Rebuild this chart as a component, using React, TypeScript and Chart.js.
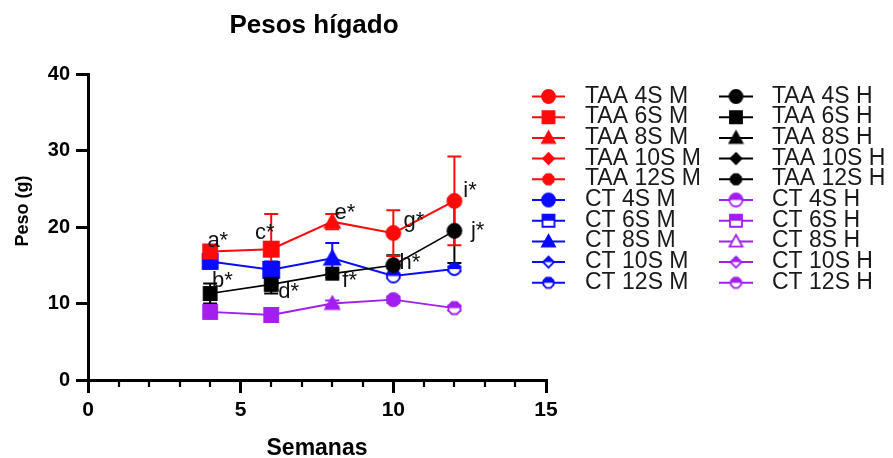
import React, { useEffect, useRef } from 'react';
import { Chart, registerables } from 'chart.js';

Chart.register(...registerables);

// ---------- data ----------
const weeks = [4, 6, 8, 10, 12];

const taaM = [16.8, 17.1, 20.7, 19.2, 23.4];
const taaMErr = [0.3, 4.6, 1.0, 3.0, 5.8];
const taaH = [11.3, 12.5, 13.9, 15.0, 19.5];
const taaHErr = [1.3, 1.2, 0.5, 1.3, 4.2];
const ctM = [15.5, 14.4, 15.9, 13.6, 14.5];
const ctMErr = [0.4, 1.1, 2.0, 0.3, 0.3];
const ctH = [8.9, 8.5, 10.0, 10.5, 9.4];
const ctHErr = [0.5, 0.4, 0.4, 0.4, 0.3];

const xTicks = [0, 5, 10, 15];
const yTicks = [0, 10, 20, 30, 40];

const legendLabelsM = ['TAA 4S M', 'TAA 6S M', 'TAA 8S M', 'TAA 10S M', 'TAA 12S M', 'CT 4S M', 'CT 6S M', 'CT 8S M', 'CT 10S M', 'CT 12S M'];
const legendLabelsH = ['TAA 4S H', 'TAA 6S H', 'TAA 8S H', 'TAA 10S H', 'TAA 12S H', 'CT 4S H', 'CT 6S H', 'CT 8S H', 'CT 10S H', 'CT 12S H'];

const annotationTexts = ['a*', 'b*', 'c*', 'd*', 'e*', 'f*', 'g*', 'h*', 'i*', 'j*'];
const annotationWeeks = [3.91, 4.06, 5.47, 6.23, 8.07, 8.33, 10.33, 10.2, 12.29, 12.54];
const annotationGrams = [17.4, 12.2, 18.4, 10.7, 21.1, 12.2, 20.0, 14.5, 23.9, 18.7];

// ---------- styles ----------
const RED = '#FF0A0A';
const BLACK = '#000000';
const BLUE = '#0A0AFF';
const PURPLE = '#A21FEF';
const FONT = '"Liberation Sans", Arial, sans-serif';

type Shape = 'circle' | 'square' | 'triangle' | 'diamond' | 'hexagon';
type Fill = 'full' | 'half' | 'none';
type Sym = [Shape, Fill, number];

const legendSymsM: Sym[] = [
  ['circle', 'full', 13], ['square', 'full', 12], ['triangle', 'full', 13], ['diamond', 'full', 11], ['hexagon', 'full', 11],
  ['circle', 'full', 13], ['square', 'half', 12], ['triangle', 'full', 13], ['diamond', 'half', 11], ['hexagon', 'half', 11],
];
const legendSymsH: Sym[] = [
  ['circle', 'full', 13], ['square', 'full', 12], ['triangle', 'full', 13], ['diamond', 'full', 11], ['hexagon', 'full', 11],
  ['circle', 'half', 13], ['square', 'half', 12], ['triangle', 'none', 13], ['diamond', 'half', 11], ['hexagon', 'half', 11],
];
const legendColorsM = [RED, RED, RED, RED, RED, BLUE, BLUE, BLUE, BLUE, BLUE];
const legendColorsH = [BLACK, BLACK, BLACK, BLACK, BLACK, PURPLE, PURPLE, PURPLE, PURPLE, PURPLE];

const redPts: Sym[] = [['square', 'full', 14], ['square', 'full', 15], ['triangle', 'full', 15], ['circle', 'full', 14], ['circle', 'full', 14]];
const blackPts: Sym[] = [['square', 'full', 13], ['square', 'full', 13], ['square', 'full', 12], ['circle', 'full', 14], ['circle', 'full', 14]];
const bluePts: Sym[] = [['square', 'full', 15], ['square', 'full', 16], ['triangle', 'full', 16], ['circle', 'half', 13], ['circle', 'half', 12]];
const purplePts: Sym[] = [['square', 'full', 14], ['square', 'full', 14], ['triangle', 'full', 14], ['circle', 'full', 13], ['hexagon', 'half', 13]];

function makeMarker(sym: Sym, color: string): HTMLCanvasElement {
  const [shape, fill, size] = sym;
  const pad = 2;
  const s = Math.ceil(size + pad * 2);
  const c = document.createElement('canvas');
  c.width = s;
  c.height = s;
  const ctx = c.getContext('2d') as CanvasRenderingContext2D;
  const cx = s / 2;
  const cy = s / 2;
  const r = size / 2;
  const path = () => {
    ctx.beginPath();
    if (shape === 'circle') {
      ctx.arc(cx, cy, r, 0, Math.PI * 2);
    } else if (shape === 'square') {
      ctx.rect(cx - r, cy - r, 2 * r, 2 * r);
    } else if (shape === 'triangle') {
      ctx.moveTo(cx, cy - r);
      ctx.lineTo(cx + r, cy + r * 0.8);
      ctx.lineTo(cx - r, cy + r * 0.8);
    } else if (shape === 'diamond') {
      ctx.moveTo(cx, cy - r);
      ctx.lineTo(cx + r, cy);
      ctx.lineTo(cx, cy + r);
      ctx.lineTo(cx - r, cy);
    } else {
      for (let k = 0; k < 8; k++) {
        const a = Math.PI / 8 + (k * Math.PI) / 4;
        const px = cx + r * Math.cos(a);
        const py = cy + r * Math.sin(a);
        if (k === 0) ctx.moveTo(px, py);
        else ctx.lineTo(px, py);
      }
    }
    ctx.closePath();
  };
  ctx.lineWidth = 1.8;
  ctx.strokeStyle = color;
  path();
  ctx.fillStyle = fill === 'full' ? color : '#ffffff';
  ctx.fill();
  if (fill === 'half') {
    ctx.save();
    path();
    ctx.clip();
    ctx.fillStyle = color;
    ctx.fillRect(0, 0, s, cy);
    ctx.restore();
  }
  path();
  ctx.stroke();
  return c;
}

export default function App() {
  const ref = useRef<HTMLCanvasElement | null>(null);

  useEffect(() => {
    if (!ref.current) return;

    const groups = [
      { values: taaM, errs: taaMErr, color: RED, syms: redPts, width: 2 },
      { values: taaH, errs: taaHErr, color: BLACK, syms: blackPts, width: 1.6 },
      { values: ctM, errs: ctMErr, color: BLUE, syms: bluePts, width: 2 },
      { values: ctH, errs: ctHErr, color: PURPLE, syms: purplePts, width: 1.8 },
    ];

    const overlay = {
      id: 'overlay',
      beforeDatasetsDraw(chart: any) {
        const ctx = chart.ctx as CanvasRenderingContext2D;
        const xs = chart.scales.x;
        const ys = chart.scales.y;
        ctx.save();
        for (let g = groups.length - 1; g >= 0; g--) {
          const grp = groups[g];
          ctx.strokeStyle = grp.color;
          ctx.lineWidth = 2;
          grp.values.forEach((v, i) => {
            const e = grp.errs[i];
            const x = xs.getPixelForValue(weeks[i]);
            const yt = ys.getPixelForValue(v + e);
            const yb = ys.getPixelForValue(v - e);
            ctx.beginPath();
            ctx.moveTo(x, yt);
            ctx.lineTo(x, yb);
            ctx.moveTo(x - 7, yt);
            ctx.lineTo(x + 7, yt);
            ctx.moveTo(x - 7, yb);
            ctx.lineTo(x + 7, yb);
            ctx.stroke();
          });
        }
        ctx.restore();
      },
      afterDatasetsDraw(chart: any) {
        const ctx = chart.ctx as CanvasRenderingContext2D;
        const xs = chart.scales.x;
        const ys = chart.scales.y;
        ctx.save();
        // minor ticks on x axis
        ctx.strokeStyle = '#000';
        ctx.lineWidth = 2.2;
        const y0 = ys.getPixelForValue(0);
        for (let v = 1; v < 15; v++) {
          if (v % 5 === 0) continue;
          const x = Math.round(xs.getPixelForValue(v));
          ctx.beginPath();
          ctx.moveTo(x, y0);
          ctx.lineTo(x, y0 + 7);
          ctx.stroke();
        }
        // letter annotations
        ctx.fillStyle = '#111';
        ctx.font = `22px ${FONT}`;
        ctx.textAlign = 'left';
        ctx.textBaseline = 'alphabetic';
        annotationTexts.forEach((t, i) => {
          ctx.fillText(t, xs.getPixelForValue(annotationWeeks[i]), ys.getPixelForValue(annotationGrams[i]));
        });
        ctx.restore();
      },
      afterDraw(chart: any) {
        const ctx = chart.ctx as CanvasRenderingContext2D;
        const area = chart.chartArea;
        ctx.save();
        ctx.fillStyle = '#000';
        // title
        ctx.font = `bold 26px ${FONT}`;
        ctx.textAlign = 'center';
        ctx.textBaseline = 'alphabetic';
        ctx.fillText('Pesos hígado', (area.left + area.right) / 2 - 3, 33);
        // x title
        ctx.font = `bold 23px ${FONT}`;
        ctx.fillText('Semanas', (area.left + area.right) / 2, 455);
        // y title
        ctx.save();
        ctx.translate(28, 211);
        ctx.rotate(-Math.PI / 2);
        ctx.font = `bold 18px ${FONT}`;
        ctx.fillText('Peso (g)', 0, 0);
        ctx.restore();
        // legend
        const rowY0 = 96.5;
        const rowStep = 20.7;
        const cols = [
          { labels: legendLabelsM, syms: legendSymsM, colors: legendColorsM, lx0: 532, lx1: 565, tx: 585 },
          { labels: legendLabelsH, syms: legendSymsH, colors: legendColorsH, lx0: 719, lx1: 753, tx: 772 },
        ];
        ctx.font = `23px ${FONT}`;
        ctx.textAlign = 'left';
        cols.forEach((col) => {
          col.labels.forEach((lab, i) => {
            const y = rowY0 + i * rowStep;
            const color = col.colors[i];
            ctx.strokeStyle = color;
            ctx.lineWidth = 2;
            ctx.beginPath();
            ctx.moveTo(col.lx0, y);
            ctx.lineTo(col.lx1, y);
            ctx.stroke();
            const img = makeMarker(col.syms[i], color);
            ctx.drawImage(img, (col.lx0 + col.lx1) / 2 - img.width / 2, y - img.height / 2);
            ctx.fillStyle = '#1a1a1a';
            ctx.fillText(lab, col.tx, y + 6);
          });
        });
        ctx.restore();
      },
    };

    const chart = new Chart(ref.current, {
      type: 'line',
      data: {
        datasets: groups.map((grp) => ({
          data: grp.values.map((v, i) => ({ x: weeks[i], y: v })),
          borderColor: grp.color,
          backgroundColor: grp.color,
          borderWidth: grp.width,
          pointStyle: grp.syms.map((s) => makeMarker(s, grp.color)) as any,
          pointRadius: 7,
          pointHoverRadius: 7,
          tension: 0,
          fill: false,
        })),
      },
      options: {
        animation: false,
        responsive: false,
        events: [],
        layout: { padding: { left: 0, top: 74, right: 347, bottom: 0 } },
        plugins: {
          legend: { display: false },
          title: { display: false },
          tooltip: { enabled: false },
        },
        scales: {
          x: {
            type: 'linear',
            min: 0,
            max: 15,
            afterBuildTicks: (s: any) => {
              s.ticks = xTicks.map((v) => ({ value: v }));
            },
            afterFit: (s: any) => {
              s.height = 78;
            },
            ticks: {
              color: '#000',
              font: { family: FONT, size: 21, weight: 'bold' },
              padding: 5,
              maxRotation: 0,
              autoSkip: false,
            },
            grid: {
              display: true,
              drawOnChartArea: false,
              drawTicks: true,
              tickLength: 13,
              tickWidth: 3,
              tickColor: '#000',
              color: '#000',
              lineWidth: 3,
            },
            border: { display: true, color: '#000', width: 3 },
          },
          y: {
            type: 'linear',
            min: 0,
            max: 40,
            afterBuildTicks: (s: any) => {
              s.ticks = yTicks.map((v) => ({ value: v }));
            },
            afterFit: (s: any) => {
              s.width = 88;
            },
            ticks: {
              color: '#000',
              font: { family: FONT, size: 20, weight: 'bold' },
              padding: 6,
              autoSkip: false,
            },
            grid: {
              display: true,
              drawOnChartArea: false,
              drawTicks: true,
              tickLength: 12,
              tickWidth: 3,
              tickColor: '#000',
              color: '#000',
              lineWidth: 3,
            },
            border: { display: true, color: '#000', width: 3 },
          },
        },
      },
      plugins: [overlay],
    } as any);

    return () => chart.destroy();
  }, []);

  return (
    <div style={{ position: 'fixed', left: 0, top: 0, width: 893, height: 458, background: '#fff' }}>
      <canvas ref={ref} width={893} height={458} style={{ width: 893, height: 458, display: 'block' }} />
    </div>
  );
}
